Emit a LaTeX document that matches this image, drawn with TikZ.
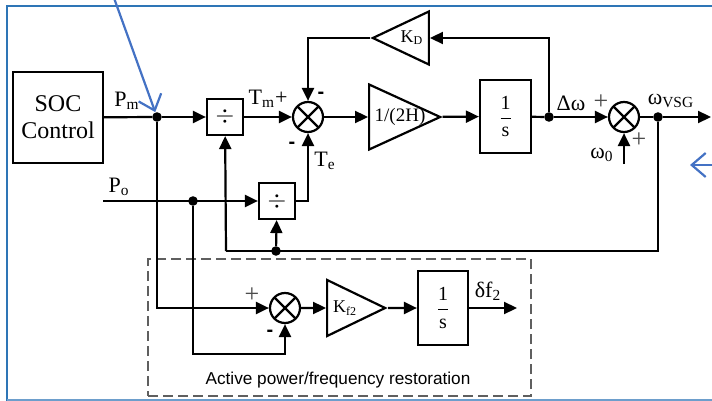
\documentclass[tikz,border=0pt]{standalone}
\usepackage{fontspec}
\setmainfont{Liberation Serif}
\newfontfamily\sansfont{Liberation Sans}
\usetikzlibrary{shapes.geometric, arrows.meta, positioning}
\definecolor{colLine}{RGB}{0,0,0}
\definecolor{colGroup}{RGB}{95,95,95}
\definecolor{colNote}{RGB}{68,114,196}
\definecolor{colFrame}{RGB}{46,117,182}
\tikzset{
  block/.style={
    rectangle, draw=colLine, line width=1.1pt,
    inner sep=0pt, align=center
  },
  socBox/.style={block, minimum width=45pt, minimum height=45.5pt, font=\fontsize{12}{13.5}\selectfont},
  divBox/.style={block, minimum size=18pt, font=\fontsize{13}{13}\selectfont},
  intBox/.style={block, minimum width=25.5pt, minimum height=36.5pt, font=\fontsize{10}{12}\selectfont},
  gainTri/.style={
    isosceles triangle, isosceles triangle stretches,
    draw=colLine, line width=1.1pt, inner sep=0pt
  },
  sumNode/.style={
    circle, draw=colLine, line width=1.1pt, minimum size=15pt, inner sep=0pt,
    path picture={
      \draw[line width=1.1pt] (path picture bounding box.center)
        +(45:8pt) -- +(225:8pt) +(135:8pt) -- +(-45:8pt);
    }
  },
  dot/.style={circle, fill=colLine, inner sep=0pt, minimum size=4.8pt},
  wire/.style={line width=1.1pt, color=colLine},
  arr/.style={
    -{Triangle[length=6.5pt, width=6pt]}, line width=1.1pt, color=colLine
  },
  lbl/.style={inner sep=0pt, font=\fontsize{11}{11}\selectfont},
  sgn/.style={inner sep=0pt, font=\sansfont\bfseries\fontsize{10}{10}\selectfont},
  pls/.style={inner sep=0pt, text=black!70, font=\fontsize{13}{13}\selectfont},
  groupBox/.style={
    rectangle, draw=colGroup, line width=0.8pt, dash pattern=on 5pt off 2.5pt,
    minimum width=191.5pt, minimum height=68.5pt, inner sep=0pt
  },
  note/.style={
    -{Straight Barb[length=7pt, width=12pt]}, line width=1.1pt, color=colNote
  }
}

\begin{document}
\begin{tikzpicture}[x=0.5pt, y=-0.5pt]
  \useasboundingbox (0,0) rectangle (712,401);

  % outer frame
  \draw[colFrame, line width=1pt] (7,730) -- (7,6) -- (730,6);
  \draw[colFrame!70, line width=1pt] (7,400) -- (730,400);

  % swing equation loop
  \node[socBox] (soc) at (58,117.5) {SOC\\Control};
  \node[dot] (jpm) at (157,117) {};
  \node[divBox] (div1) at (225,117) {$\div$};
  \node[sumNode] (sum1) at (308,117) {};
  \node[gainTri, minimum width=32.5pt, minimum height=35.5pt, anchor=apex] (gain) at (443,117) {};
  \node[inner sep=0pt, font=\fontsize{9.5}{10}\selectfont] (gainlab) at (400,117) {1/(2H)};
  \node[intBox] (integ) at (505.5,116.5) {$\displaystyle\frac{\mbox{1}}{\mbox{s}}$};
  \node[dot] (jdw) at (549,117) {};
  \node[sumNode] (sum2) at (624,117) {};
  \node[dot] (jvsg) at (658,117) {};
  \coordinate (vsgout) at (711,117);
  \coordinate (w0in) at (624,164);
  \node[gainTri, shape border rotate=180, minimum width=26.5pt, minimum height=28pt,
        anchor=apex, font=\fontsize{9}{9}\selectfont] (kd) at (370,38) {K\textsubscript{D}};

  % electrical power path
  \coordinate (poin) at (103,201);
  \node[dot] (jpo) at (193,201) {};
  \node[divBox] (div2) at (277,201) {$\div$};
  \node[dot] (jfb) at (276,251) {};
  \coordinate (fbl) at (226,251);

  % restoration loop
  \node[groupBox] (restore) at (339.5,327.5) {};
  \node[sumNode] (sum3) at (285,308) {};
  \coordinate (s3c) at (285,354);
  \node[gainTri, minimum width=28pt, minimum height=29pt, anchor=apex,
        font=\fontsize{9}{9}\selectfont] (kf) at (388,308) {K\textsubscript{f2}};
  \node[intBox, minimum width=25pt, minimum height=37pt] (integ2) at (443,308)
        {$\displaystyle\frac{\mbox{1}}{\mbox{s}}$};
  \coordinate (dfout) at (517,308);
  \node[inner sep=0pt, font=\sansfont\fontsize{8.6}{9}\selectfont] (restorelab)
        at (338,380) {Active power/frequency restoration};

  % forward path
  \draw[wire] (soc) -- (jpm);
  \draw[arr] (jpm) -- (div1);
  \draw[arr] (div1) -- (sum1);
  \draw[arr] (sum1) -- (gain);
  \draw[arr] (gain) -- (integ);
  \draw[wire] (integ) -- (jdw);
  \draw[arr] (jdw) -- (sum2);
  \draw[wire] (sum2) -- (jvsg);
  \draw[arr] (jvsg) -- (vsgout);
  \draw[arr] (w0in) -- (sum2);

  % damping feedback
  \draw[arr] (jdw) |- (kd);
  \draw[arr] (kd) -| (sum1);

  % speed feedback to dividers
  \draw[wire] (jvsg) |- (fbl);
  \draw[arr] (fbl) -- (div1);
  \draw[arr] (jfb) -- (div2);

  % P_o over speed
  \draw[arr] (poin) -- (div2);
  \draw[arr] (div2) -| (sum1);

  % restoration loop
  \draw[arr] (jpm) |- (sum3);
  \draw[arr] (jpo) |- (s3c) -- (sum3);
  \draw[arr] (sum3) -- (kf);
  \draw[arr] (kf) -- (integ2);
  \draw[arr] (integ2) -- (dfout);

  % labels
  \node[lbl] (pmlab) at (127,101) {P\textsubscript{m}};
  \node[lbl] (tmlab) at (268,99) {T\textsubscript{m}+};
  \node[sgn] (m1) at (321,95) {-};
  \node[sgn] (m2) at (292,145) {-};
  \node[lbl] (telab) at (325,161) {T\textsubscript{e}};
  \node[lbl] (dwlab) at (571,103) {Δω};
  \node[pls] (p1) at (601,102) {+};
  \node[lbl] (vsglab) at (671,101) {ω\textsubscript{VSG}};
  \node[lbl] (w0lab) at (602,155) {ω\textsubscript{0}};
  \node[pls] (p2) at (639,140) {+};
  \node[lbl] (polab) at (119,187) {P\textsubscript{o}};
  \node[pls] (p3) at (252,295) {+};
  \node[sgn] (m3) at (270,333) {-};
  \node[lbl] (dflab) at (488,291) {δf\textsubscript{2}};

  % annotation arrows
  \coordinate (noteA) at (114,-2);
  \coordinate (noteBs) at (714,165);
  \coordinate (noteBe) at (690,165);
  \draw[note] (noteA) -- (jpm);
  \draw[note] (noteBs) -- (noteBe);
\end{tikzpicture}
\end{document}
